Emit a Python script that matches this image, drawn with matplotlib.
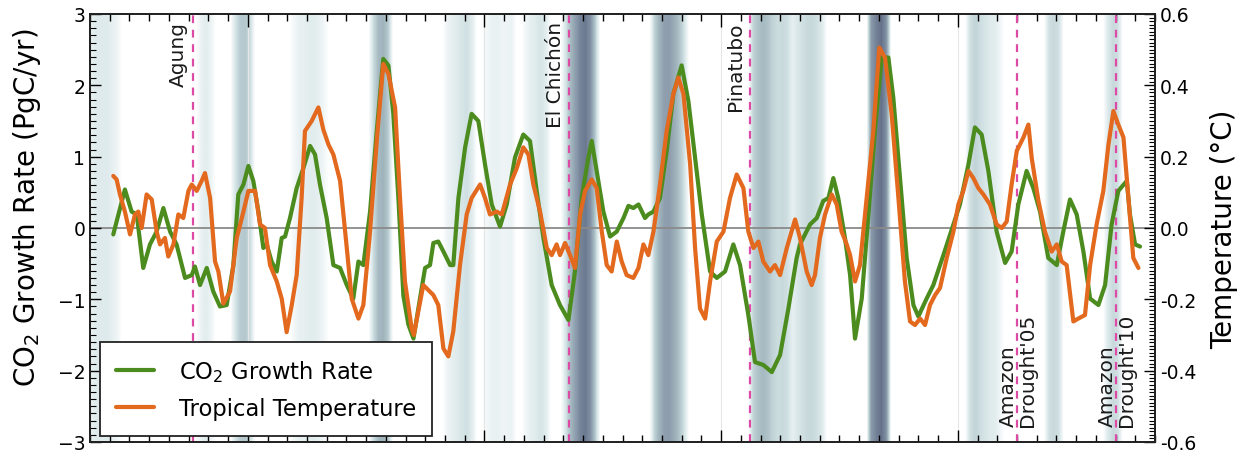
import matplotlib
matplotlib.use("Agg")
import matplotlib.pyplot as plt
import numpy as np
from matplotlib.colors import LinearSegmentedColormap
from matplotlib.ticker import MultipleLocator, FixedLocator

# ---------------- data ----------------
co2_year = [1959.18, 1959.77, 1960.11, 1960.37, 1960.70, 1961.04, 1961.38, 1961.72, 1962.06, 1962.39,
            1962.82, 1963.16, 1963.32, 1963.58, 1963.92, 1964.25, 1964.59, 1964.93, 1965.27, 1965.52,
            1965.78, 1966.03, 1966.28, 1966.54, 1966.79, 1966.96, 1967.21, 1967.47, 1967.72, 1967.89,
            1968.14, 1968.48, 1968.82, 1969.16, 1969.41, 1969.66, 1970.00, 1970.34, 1970.68, 1971.02,
            1971.35, 1971.61, 1971.86, 1972.20, 1972.54, 1972.87, 1973.13, 1973.38, 1973.64, 1973.89,
            1974.14, 1974.40, 1974.73, 1974.99, 1975.24, 1975.41, 1975.66, 1975.92, 1976.26, 1976.42,
            1976.68, 1977.02, 1977.35, 1977.69, 1978.03, 1978.37, 1978.79, 1979.13, 1979.55, 1979.97,
            1980.31, 1980.65, 1980.99, 1981.41, 1981.83, 1982.26, 1982.59, 1982.93, 1983.27, 1983.44,
            1983.69, 1984.03, 1984.37, 1984.71, 1985.05, 1985.30, 1985.55, 1985.81, 1986.14, 1986.31,
            1986.57, 1986.90, 1987.24, 1987.58, 1988.00, 1988.34, 1988.68, 1989.02, 1989.44, 1989.78,
            1990.20, 1990.62, 1990.96, 1991.38, 1991.72, 1992.14, 1992.57, 1992.99, 1993.41, 1993.83,
            1994.00, 1994.51, 1994.85, 1995.18, 1995.44, 1995.69, 1995.94, 1996.28, 1996.54, 1996.79,
            1997.13, 1997.47, 1997.80, 1998.14, 1998.48, 1998.73, 1999.07, 1999.41, 1999.75, 2000.00,
            2000.42, 2000.76, 2001.27, 2001.78, 2002.11, 2002.54, 2002.87, 2003.21, 2003.55, 2003.97,
            2004.40, 2004.73, 2005.07, 2005.49, 2005.83, 2006.17, 2006.59, 2007.02, 2007.35, 2007.69,
            2008.03, 2008.37, 2008.71, 2009.13, 2009.47, 2009.80, 2010.14, 2010.57, 2010.73, 2010.99,
            2011.24]
co2_rate = [-0.09, 0.54, 0.23, 0.19, -0.56, -0.23, -0.05, 0.28, -0.05, -0.23,
            -0.70, -0.66, -0.54, -0.80, -0.56, -0.89, -1.10, -1.08, -0.52, 0.47,
            0.61, 0.87, 0.66, 0.23, -0.28, -0.23, -0.47, -0.61, -0.14, -0.12,
            0.14, 0.56, 0.84, 1.15, 1.03, 0.61, 0.14, -0.52, -0.56, -0.80,
            -0.99, -0.47, -0.52, 0.23, 1.36, 2.37, 2.28, 1.60, 0.40, -0.95,
            -1.35, -1.55, -0.99, -0.56, -0.52, -0.21, -0.19, -0.33, -0.52, -0.52,
            0.42, 1.13, 1.60, 1.50, 0.89, 0.33, 0.02, 0.33, 0.99, 1.31,
            1.22, 0.52, -0.14, -0.80, -1.08, -1.29, -0.61, 0.42, 0.99, 1.22,
            0.80, 0.23, -0.12, -0.05, 0.14, 0.31, 0.28, 0.33, 0.14, 0.19,
            0.23, 0.42, 1.08, 1.88, 2.28, 1.78, 0.99, 0.19, -0.61, -0.70,
            -0.61, -0.23, -0.52, -1.22, -1.88, -1.92, -2.02, -1.78, -1.13, -0.42,
            -0.23, 0.05, 0.14, 0.38, 0.42, 0.70, 0.42, -0.14, -0.66, -1.55,
            -0.99, 0.19, 1.36, 2.39, 2.39, 1.83, 0.70, -0.42, -1.08, -1.24,
            -0.99, -0.80, -0.38, 0.05, 0.33, 0.89, 1.41, 1.31, 0.80, -0.05,
            -0.49, -0.33, 0.33, 0.80, 0.56, 0.23, -0.42, -0.52, -0.05, 0.40,
            0.19, -0.33, -0.99, -1.08, -0.80, 0.05, 0.52, 0.66, 0.19, -0.23,
            -0.26]

temp_year = [1959.18, 1959.35, 1959.52, 1959.77, 1960.03, 1960.28, 1960.45, 1960.62, 1960.87, 1961.13,
             1961.38, 1961.55, 1961.80, 1961.97, 1962.23, 1962.48, 1962.73, 1962.99, 1963.16, 1963.41,
             1963.66, 1963.83, 1964.09, 1964.34, 1964.51, 1964.76, 1965.10, 1965.44, 1965.78, 1966.03,
             1966.37, 1966.62, 1966.87, 1967.13, 1967.47, 1967.72, 1967.97, 1968.23, 1968.48, 1968.73,
             1968.90, 1969.24, 1969.58, 1969.83, 1970.09, 1970.34, 1970.68, 1971.02, 1971.27, 1971.61,
             1971.86, 1972.20, 1972.54, 1972.87, 1973.13, 1973.47, 1973.72, 1973.97, 1974.31, 1974.42,
             1974.90, 1975.41, 1975.66, 1975.92, 1976.17, 1976.42, 1976.76, 1977.10, 1977.35, 1977.78,
             1978.03, 1978.28, 1978.62, 1978.88, 1979.30, 1979.64, 1979.97, 1980.23, 1980.48, 1980.82,
             1981.16, 1981.41, 1981.66, 1981.83, 1982.09, 1982.34, 1982.59, 1982.85, 1983.10, 1983.44,
             1983.69, 1983.95, 1984.20, 1984.45, 1984.71, 1984.96, 1985.21, 1985.55, 1985.81, 1986.06,
             1986.31, 1986.57, 1986.90, 1987.24, 1987.58, 1987.83, 1988.09, 1988.43, 1988.68, 1988.93,
             1989.19, 1989.44, 1989.78, 1990.12, 1990.45, 1990.79, 1991.13, 1991.38, 1991.64, 1991.89,
             1992.14, 1992.48, 1992.73, 1992.99, 1993.33, 1993.75, 1994.00, 1994.34, 1994.59, 1994.76,
             1995.01, 1995.27, 1995.61, 1995.86, 1996.11, 1996.37, 1996.54, 1996.79, 1997.04, 1997.38,
             1997.72, 1998.02, 1998.31, 1998.65, 1998.99, 1999.32, 1999.58, 1999.83, 2000.09, 2000.34,
             2000.59, 2000.85, 2001.10, 2001.44, 2001.78, 2002.03, 2002.28, 2002.54, 2002.79, 2003.04,
             2003.30, 2003.63, 2003.97, 2004.23, 2004.48, 2004.73, 2004.99, 2005.33, 2005.58, 2005.75,
             2006.09, 2006.42, 2006.76, 2007.02, 2007.27, 2007.52, 2007.86, 2008.11, 2008.45, 2008.71,
             2009.04, 2009.38, 2009.64, 2009.89, 2010.14, 2010.40, 2010.65, 2010.90, 2011.16]
temp_anom = [0.146, 0.136, 0.094, 0.046, -0.018, 0.038, 0.046, 0.000, 0.094, 0.080,
             -0.010, -0.046, -0.028, -0.080, -0.046, 0.038, 0.028, 0.104, 0.122, 0.104,
             0.132, 0.154, 0.084, -0.094, -0.122, -0.212, -0.178, -0.028, 0.046, 0.104,
             0.104, 0.010, 0.000, -0.104, -0.150, -0.198, -0.292, -0.216, -0.132, 0.084,
             0.272, 0.300, 0.338, 0.276, 0.234, 0.206, 0.132, -0.056, -0.198, -0.254,
             -0.216, -0.010, 0.244, 0.460, 0.432, 0.338, 0.084, -0.150, -0.282, -0.300,
             -0.160, -0.188, -0.216, -0.338, -0.360, -0.290, -0.104, 0.038, 0.084, 0.122,
             0.084, 0.038, 0.046, 0.038, 0.122, 0.168, 0.226, 0.206, 0.122, 0.046,
             -0.056, -0.076, -0.046, -0.076, -0.042, -0.076, -0.112, 0.038, 0.104, 0.136,
             0.112, -0.010, -0.104, -0.122, -0.038, -0.094, -0.132, -0.140, -0.112, -0.046,
             -0.076, -0.010, 0.122, 0.272, 0.376, 0.422, 0.376, 0.178, -0.056, -0.226,
             -0.254, -0.150, -0.038, -0.010, 0.084, 0.150, 0.112, -0.010, -0.056, -0.038,
             -0.094, -0.122, -0.104, -0.132, -0.056, 0.024, -0.028, -0.122, -0.160, -0.132,
             -0.028, 0.038, 0.094, 0.066, -0.010, -0.046, -0.076, -0.150, -0.104, 0.084,
             0.272, 0.506, 0.478, 0.318, 0.084, -0.150, -0.262, -0.272, -0.254, -0.272,
             -0.216, -0.188, -0.168, -0.084, -0.010, 0.066, 0.104, 0.160, 0.140, 0.112,
             0.094, 0.066, 0.010, 0.000, 0.018, 0.122, 0.216, 0.254, 0.290, 0.196,
             0.076, -0.010, -0.066, -0.046, -0.094, -0.104, -0.262, -0.254, -0.244, -0.104,
             0.010, 0.104, 0.234, 0.328, 0.290, 0.254, 0.084, -0.084, -0.112]

# El Nino shading intensity, quarterly from 1958.0 (4 values per year)
shade_start = 1958.0
shade_step = 0.25
enso_shade = [
    .15, .2, .2, .2,    # 1958
    .15, .1, 0, 0,      # 1959
    0, 0, 0, 0,         # 1960
    0, 0, 0, 0,         # 1961
    0, 0, 0, 0,         # 1962
    0, 0, .12, .18,     # 1963
    .12, 0, 0, 0,       # 1964
    0, .25, .4, .42,    # 1965
    .3, 0, 0, 0,        # 1966
    0, 0, 0, 0,         # 1967
    0, .08, .14, .15,   # 1968
    .18, .18, .14, .08, # 1969
    0, 0, 0, 0,         # 1970
    0, 0, 0, 0,         # 1971
    0, .3, .5, .55,     # 1972
    .4, 0, 0, 0,        # 1973
    0, 0, 0, 0,         # 1974
    0, 0, 0, 0,         # 1975
    .1, .15, .2, .25,   # 1976
    .28, .18, 0, 0,     # 1977
    .08, .12, .14, .1,  # 1978
    .1, .12, 0, 0,      # 1979
    .1, .15, .2, .25,   # 1980
    .18, 0, 0, 0,       # 1981
    .25, .5, .72, .88,  # 1982
    .95, .8, .4, 0,     # 1983
    0, 0, 0, 0,         # 1984
    0, 0, 0, 0,         # 1985
    0, 0, .35, .55,     # 1986
    .7, .72, .6, .45,   # 1987
    .28, 0, 0, 0,       # 1988
    0, 0, 0, 0,         # 1989
    0, 0, 0, 0,         # 1990
    0, 0, .35, .45,     # 1991
    .5, .45, .35, .3,   # 1992
    .32, .28, .15, .22, # 1993
    .28, .32, .32, .28, # 1994
    .2, 0, 0, 0,        # 1995
    0, 0, 0, 0,         # 1996
    0, 0, .75, .9,      # 1997
    1.0, .8, 0, 0,      # 1998
    0, 0, 0, 0,         # 1999
    0, 0, 0, 0,         # 2000
    0, 0, 0, 0,         # 2001
    0, 0, .28, .35,     # 2002
    .3, .25, .2, .18,   # 2003
    .1, 0, 0, 0,        # 2004
    0, 0, 0, 0,         # 2005
    0, 0, .28, .32,     # 2006
    .28, 0, 0, 0,       # 2007
    0, 0, 0, 0,         # 2008
    0, 0, .22, .32,     # 2009
    .28, 0, 0, 0,       # 2010
    0, 0, 0, 0,         # 2011
]

events = ["Agung", "El Chichón", "Pinatubo", "Amazon\nDrought'05", "Amazon\nDrought'10"]
event_year = [1963.2, 1982.3, 1991.45, 2005.0, 2010.0]

major_years = [1966, 1978, 1990, 2002]

# ---------------- figure ----------------
W, H = 1243, 456
fig = plt.figure(figsize=(W / 100, H / 100), dpi=100)
ax = fig.add_axes([90 / W, 13 / H, 1065 / W, 428 / H])

green = '#4c8c1e'
orange = '#e2691d'
magenta = '#dc4aa6'

cmap = LinearSegmentedColormap.from_list(
    'enso', ['#ffffff', '#d6e5e7', '#a5bac1', '#8a99aa', '#65728a'])
shade = np.array(enso_shade)[None, :]
x0 = shade_start
x1 = shade_start + shade_step * len(enso_shade)
ax.imshow(shade, extent=[x0, x1, -3, 3], aspect='auto', cmap=cmap,
          vmin=0, vmax=1, interpolation='bilinear', zorder=0)

for yr in major_years:
    ax.axvline(yr, color='#e6e6e6', lw=0.8, zorder=0.5)

ax.axhline(0, color='#8a8a8a', lw=1.3, zorder=1)

for name, yr in zip(events, event_year):
    ax.axvline(yr, color=magenta, lw=1.6, dashes=(3.5, 3), zorder=2)

l1, = ax.plot(co2_year, co2_rate, color=green, lw=3.0, zorder=3,
              solid_joinstyle='round', solid_capstyle='round')

ax.set_xlim(1958, 2012)
ax.set_ylim(-3, 3)
ax.xaxis.set_major_locator(FixedLocator(major_years))
ax.xaxis.set_minor_locator(MultipleLocator(1))
ax.yaxis.set_major_locator(MultipleLocator(1))
ax.yaxis.set_minor_locator(MultipleLocator(0.1))
ax.tick_params(axis='x', which='both', direction='in', top=True, bottom=True,
               labelbottom=False)
ax.tick_params(axis='x', which='major', length=9, width=1)
ax.tick_params(axis='x', which='minor', length=5, width=1)
ax.tick_params(axis='y', which='both', direction='in', left=True, right=False,
               labelsize=13.5)
ax.tick_params(axis='y', which='major', length=8, width=1)
ax.tick_params(axis='y', which='minor', length=4, width=0.8)
ax.set_ylabel('CO$_2$ Growth Rate (PgC/yr)', fontsize=20)
ax.yaxis.set_label_coords(-0.044, 0.55)

ax2 = ax.twinx()
ax2.set_position(ax.get_position())
l2, = ax2.plot(temp_year, temp_anom, color=orange, lw=3.0, zorder=4,
               solid_joinstyle='round', solid_capstyle='round')
ax2.set_ylim(-0.6, 0.6)
ax2.yaxis.set_major_locator(MultipleLocator(0.2))
ax2.yaxis.set_minor_locator(MultipleLocator(0.01))
ax2.yaxis.set_major_formatter(matplotlib.ticker.FormatStrFormatter('%.1f'))
ax2.tick_params(axis='y', which='both', direction='in', labelsize=13.5)
ax2.tick_params(axis='y', which='major', length=8, width=1)
ax2.tick_params(axis='y', which='minor', length=4, width=0.8)
ax2.set_ylabel('Temperature (°C)', fontsize=20, labelpad=10)

for a in (ax, ax2):
    for s in a.spines.values():
        s.set_linewidth(1.3)
        s.set_color('#222222')

# event labels
for name, yr in zip(events[:3], event_year[:3]):
    ax.text(yr - 0.22, 2.9, name, rotation=90, ha='right', va='top',
            fontsize=14.5, color='#1a1a1a', zorder=5)
for name, yr in zip(events[3:], event_year[3:]):
    ax.text(yr + 0.05, -2.78, name, rotation=90, ha='center', va='bottom',
            fontsize=14.5, color='#1a1a1a', multialignment='left',
            linespacing=1.0, zorder=5)

leg = ax2.legend([l1, l2], ['CO$_2$ Growth Rate', 'Tropical Temperature'],
                 loc='lower left', bbox_to_anchor=(10 / 1065, 6 / 428),
                 borderaxespad=0, fontsize=16.3, handlelength=1.7,
                 handletextpad=1.1, labelspacing=0.6, borderpad=0.7,
                 fancybox=False, framealpha=1, edgecolor='#222222')
leg.get_frame().set_linewidth(1.3)
leg.set_zorder(10)

fig.savefig('out.png', dpi=100)
